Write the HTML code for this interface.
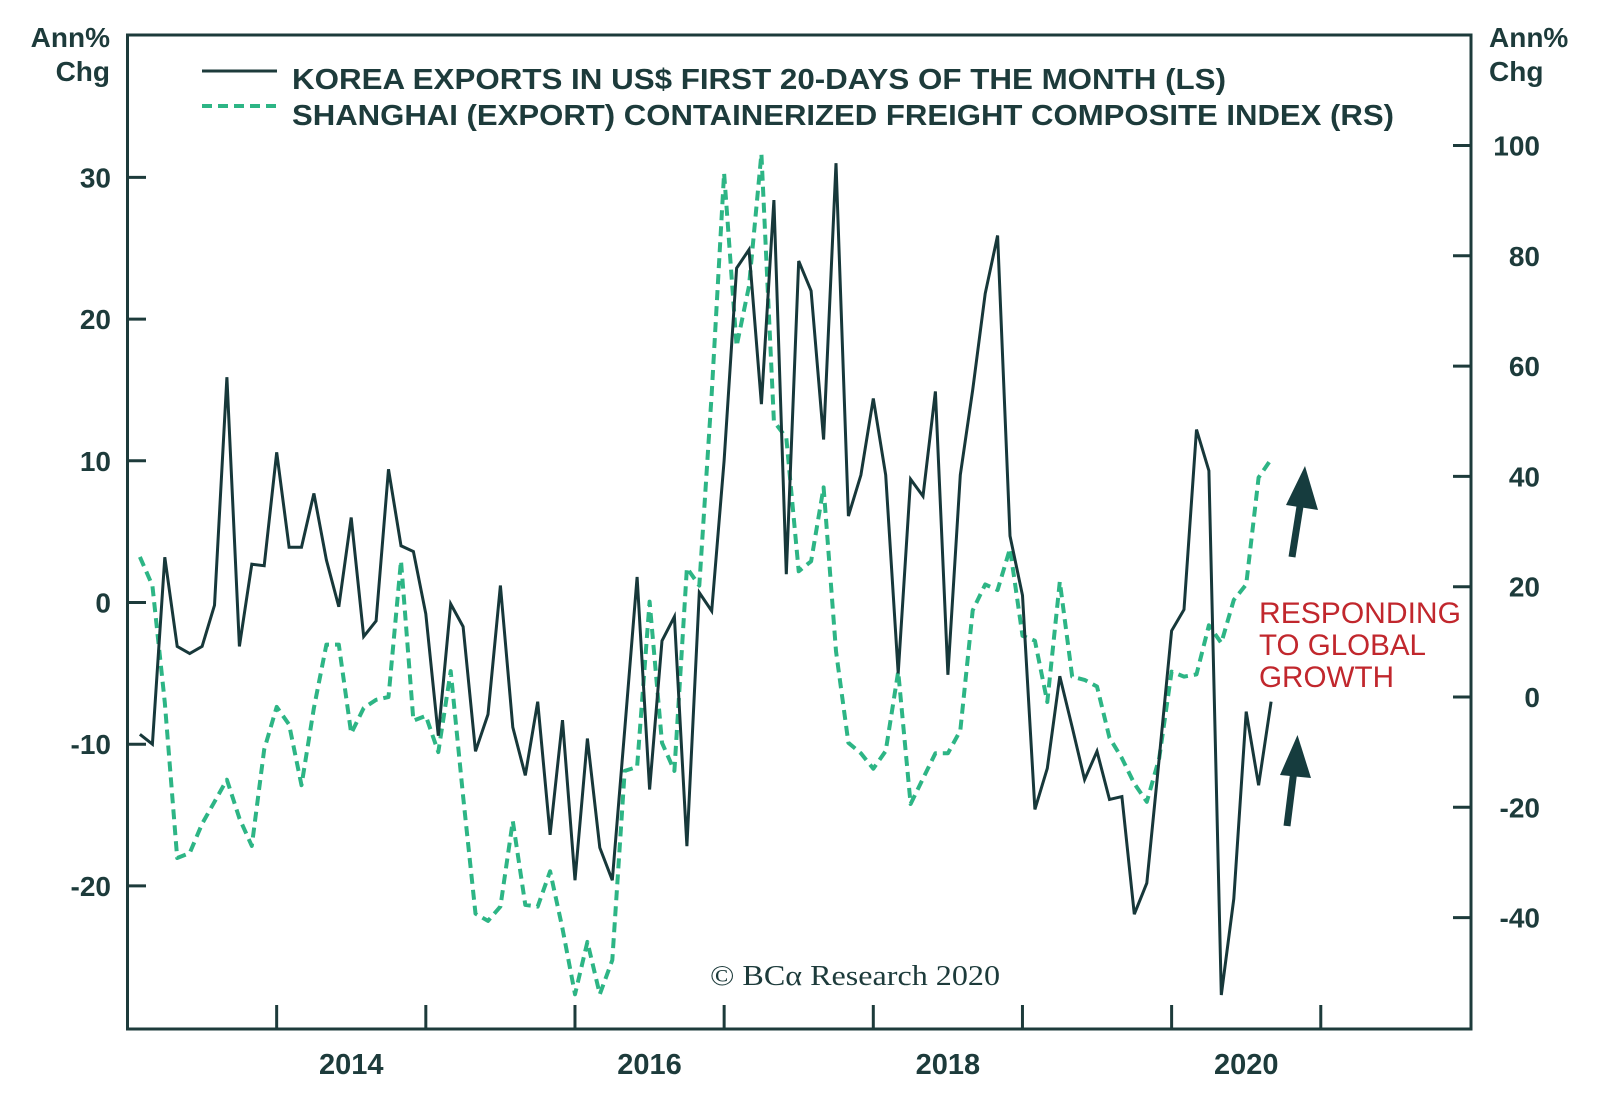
<!DOCTYPE html>
<html><head><meta charset="utf-8"><style>
html,body{margin:0;padding:0;background:#fff;}
svg{display:block;}
text{font-family:"Liberation Sans",sans-serif;}
</style></head><body>
<svg id="chart" width="1600" height="1109" viewBox="0 0 1600 1109" xmlns="http://www.w3.org/2000/svg">
<rect x="0" y="0" width="1600" height="1109" fill="#fff"/>
<g id="grid"></g>
<g id="series"></g>
<rect x="127.5" y="35" width="1343.5" height="994" fill="none" stroke="#1d3b3b" stroke-width="3"/>
<g id="axes"></g>
<text x="110" y="47" text-anchor="end" font-size="28" font-weight="bold" fill="#1d3b3b">Ann%</text>
<text x="110" y="81" text-anchor="end" font-size="28" font-weight="bold" fill="#1d3b3b">Chg</text>
<text x="1489" y="47" font-size="28" font-weight="bold" fill="#1d3b3b">Ann%</text>
<text x="1489" y="81" font-size="28" font-weight="bold" fill="#1d3b3b">Chg</text>
<g>
<line x1="202" y1="71" x2="277" y2="71" stroke="#1d3b3b" stroke-width="3"/>
<text x="292" y="89" font-size="29" font-weight="bold" fill="#1d3b3b" textLength="934" lengthAdjust="spacingAndGlyphs">KOREA EXPORTS IN US$ FIRST 20-DAYS OF THE MONTH (LS)</text>
<line x1="202" y1="106" x2="277" y2="106" stroke="#2db585" stroke-width="4" stroke-dasharray="10,6"/>
<text x="292" y="125" font-size="29" font-weight="bold" fill="#1d3b3b" textLength="1102" lengthAdjust="spacingAndGlyphs">SHANGHAI (EXPORT) CONTAINERIZED FREIGHT COMPOSITE INDEX (RS)</text>
</g>
<text x="710" y="985" style="font-family:'Liberation Serif',serif;" font-size="29" fill="#1d3b3b" textLength="290" lengthAdjust="spacingAndGlyphs">© BCα Research 2020</text>
<g fill="#c1272d" font-size="30">
<text x="1259" y="623" textLength="202" lengthAdjust="spacingAndGlyphs">RESPONDING</text>
<text x="1259" y="655" textLength="167" lengthAdjust="spacingAndGlyphs">TO GLOBAL</text>
<text x="1259" y="687" textLength="135" lengthAdjust="spacingAndGlyphs">GROWTH</text>
</g>
<g>
<line x1="1292" y1="557" x2="1301" y2="500" stroke="#163c3e" stroke-width="7"/>
<polygon points="1305,466 1318,510 1286,505" fill="#163c3e"/>
</g>
<g>
<line x1="1287" y1="826" x2="1294" y2="770" stroke="#163c3e" stroke-width="7"/>
<polygon points="1297.5,735 1311,778 1280,775" fill="#163c3e"/>
</g>
</svg>
<script>
// month index 0 = Jan 2013
const koreaMonths = [1,2,3,4,5,6,7,8,9,10,11,12,13,14,15,16,17,18,19,20,21,22,23,24,25,26,27,28,29,30,31,32,33,34,35,36,37,38,39,40,41,42,43,44,45,46,47,48,49,50,51,52,53,54,55,56,57,58,59,60,61,62,63,64,65,66,67,68,69,70,71,72,73,74,75,76,77,78,79,80,81,82,83,84,85,86,87,88,89,90,91,92];
const koreaValues = [-9.3,-10,3.2,-3.1,-3.6,-3.1,-0.2,15.9,-3.1,2.7,2.6,10.6,3.9,3.9,7.7,3,-0.3,6,-2.4,-1.3,9.4,4,3.6,-0.8,-9.4,-0.1,-1.7,-10.5,-7.9,1.2,-8.8,-12.2,-7,-16.4,-8.3,-19.6,-9.6,-17.3,-19.6,-9,1.8,-13.2,-2.7,-1,-17.2,0.7,-0.6,10,23.6,24.9,14,28.4,2,24.1,22,11.5,31,6.1,9,14.4,9,-5,8.7,7.5,14.9,-5.1,9,15,21.8,25.9,4.7,0.5,-14.6,-11.7,-5.2,-8.8,-12.5,-10.5,-13.9,-13.7,-22,-19.8,-11,-2,-0.5,12.2,9.3,-27.7,-20.9,-7.7,-12.9,-7];
const freightMonths = koreaMonths;
const freightValues = [25.4,20.2,-1,-29.2,-28.3,-23,-19,-15,-22,-27,-9.5,-1.8,-5,-16,-2,9.5,9.5,-6.6,-2,-0.5,0,24.7,-4.3,-3.4,-10,4.7,-18,-39.3,-40.6,-38,-22.5,-37.7,-38,-31.6,-42,-53.9,-44.4,-53.9,-47.7,-13.4,-12.7,17.3,-8.3,-13.4,23.4,20.2,55,95,63.6,74.5,98.5,50,47,22.8,24.6,38,8.3,-8.3,-10.2,-13,-9.8,4.6,-19.4,-14.8,-10.2,-10.2,-6.1,15.7,20.4,19.4,26.9,11.1,10.2,-0.9,20.9,3.7,3.1,1.9,-7.4,-11.1,-15.7,-19,-11.1,4.6,3.7,4.1,13,9.8,17.6,20.4,39.8,43.1];
const leftTicks = [30,20,10,0,-10,-20];
const rightTicks = [100,80,60,40,20,0,-20,-40];
const yearTickMonths = [12,24,36,48,60,72,84,96];
const yearLabels = ["2014","2016","2018","2020"];
const yearLabelMonths = [18,42,66,90];

const NS = "http://www.w3.org/2000/svg";
const X0 = 127.5, MONTH_W = 12.43;
function xScale(m){ return X0 + m*MONTH_W; }
function yLeft(v){ return 602.5 - v*14.17; }
function yRight(v){ return 697 - v*5.515; }
const axes = document.getElementById('axes');
const series = document.getElementById('series');
function mk(tag, attrs, parent){
  const e = document.createElementNS(NS, tag);
  for (const k in attrs) e.setAttribute(k, attrs[k]);
  parent.appendChild(e);
  return e;
}
const INK = "#1d3b3b";
leftTicks.forEach(v => {
  const y = yLeft(v);
  const t = mk('line', {x1:127.5, x2:146, y1:y, y2:y, stroke:INK, 'stroke-width':3}, axes);
  
  
  const l = mk('text', {x:111, y:y+10, 'text-anchor':'end', 'font-size':28, 'font-weight':'bold', fill:INK}, axes);
  
  
  l.textContent = String(v);
});
rightTicks.forEach(v => {
  const y = yRight(v);
  const t = mk('line', {x1:1453, x2:1471, y1:y, y2:y, stroke:INK, 'stroke-width':3}, axes);
  
  
  const l = mk('text', {x:1540, y:y+10, 'text-anchor':'end', 'font-size':28, 'font-weight':'bold', fill:INK}, axes);
  
  
  l.textContent = String(v);
});
yearTickMonths.forEach(m => {
  const x = xScale(m);
  const t = mk('line', {x1:x, x2:x, y1:1005, y2:1029, stroke:INK, 'stroke-width':3}, axes);
  
  
});
yearLabels.forEach((s, i) => {
  const l = mk('text', {x:xScale(yearLabelMonths[i]), y:1074, 'text-anchor':'middle', 'font-size':29, 'font-weight':'bold', fill:INK}, axes);
  
  
  l.textContent = s;
});
const fp = freightMonths.map((m,i) => xScale(m).toFixed(1)+','+yRight(freightValues[i]).toFixed(1)).join(' ');
const fl = mk('polyline', {points:fp, fill:'none', stroke:'#2db585', 'stroke-width':4, 'stroke-dasharray':'10,6', 'stroke-linejoin':'round'}, series);


const kp = koreaMonths.map((m,i) => xScale(m).toFixed(1)+','+yLeft(koreaValues[i]).toFixed(1)).join(' ');
const kl = mk('polyline', {points:kp, fill:'none', stroke:'#17383a', 'stroke-width':3, 'stroke-linejoin':'miter'}, series);


</script>
</body></html>
